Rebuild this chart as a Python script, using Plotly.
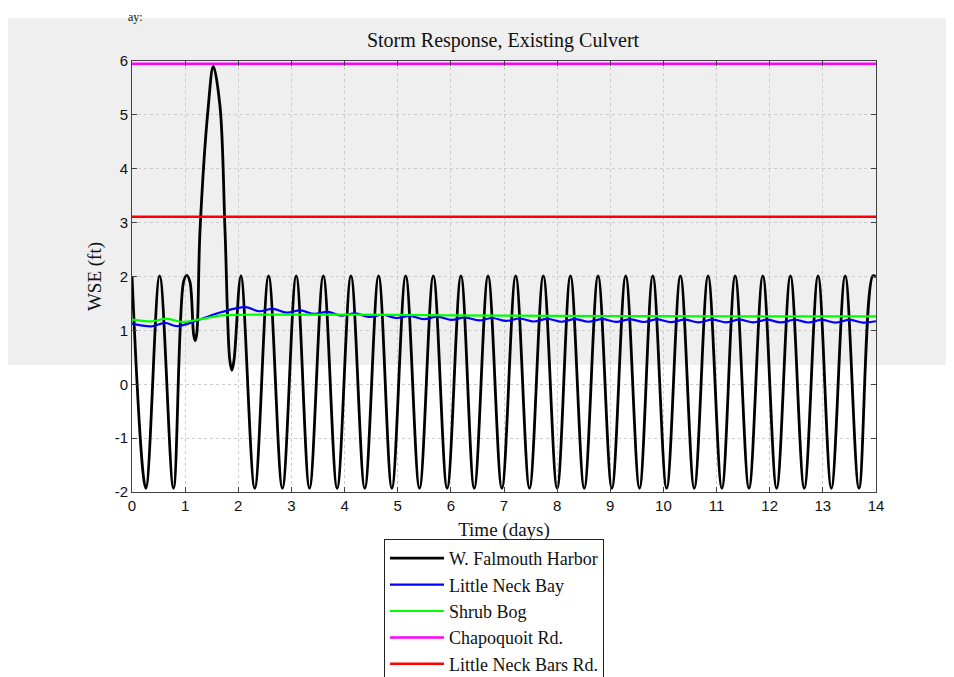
import plotly.graph_objects as go

# ---------------- data ----------------
harbor_t = [0.00, 0.26, 0.52, 0.78, 0.97, 1.03, 1.09, 1.16, 1.19, 1.22, 1.28, 1.436, 1.53,
            1.656, 1.75, 1.84, 1.88, 1.92, 2.05, 2.31, 2.57, 2.83, 3.09, 3.34, 3.60, 3.86,
            4.12, 4.38, 4.64, 4.89, 5.15, 5.41, 5.67, 5.93, 6.19, 6.44, 6.70, 6.96, 7.22,
            7.48, 7.74, 8.00, 8.25, 8.51, 8.77, 9.03, 9.29, 9.55, 9.80, 10.06, 10.32, 10.58,
            10.84, 11.10, 11.35, 11.61, 11.87, 12.13, 12.39, 12.65, 12.91, 13.16, 13.42,
            13.68, 13.94, 14.00]
harbor_wse = [2.01, -1.93, 2.01, -1.93, 1.90, 2.02, 1.90, 0.92, 0.81, 0.95, 2.86, 5.16, 5.90,
              5.16, 2.86, 0.45, 0.26, 0.45, 2.01, -1.93, 2.01, -1.93, 2.01, -1.93, 2.01, -1.93,
              2.01, -1.93, 2.01, -1.93, 2.01, -1.93, 2.01, -1.93, 2.01, -1.93, 2.01, -1.93, 2.01,
              -1.93, 2.01, -1.93, 2.01, -1.93, 2.01, -1.93, 2.01, -1.93, 2.01, -1.93, 2.01, -1.93,
              2.01, -1.93, 2.01, -1.93, 2.01, -1.93, 2.01, -1.93, 2.01, -1.93, 2.01,
              -1.93, 2.01, 1.99]

bay_t = [0.00, 0.37, 0.62, 0.85, 1.24, 1.69, 2.13, 2.39, 2.65, 2.91, 3.17, 3.43, 3.68, 3.94,
         4.20, 4.46, 4.72, 4.98, 5.23, 5.49, 5.75, 6.01, 6.27, 6.53, 6.78, 7.04, 7.30, 7.56,
         7.82, 8.08, 8.33, 8.59, 8.85, 9.11, 9.37, 9.63, 9.88, 10.14, 10.40, 10.66, 10.92,
         11.18, 11.43, 11.69, 11.95, 12.21, 12.47, 12.73, 12.98, 13.24, 13.50, 13.76, 14.00]
bay_wse = [1.125, 1.075, 1.14, 1.08, 1.19, 1.34, 1.43, 1.355, 1.40, 1.33, 1.37, 1.305, 1.345,
           1.275, 1.315, 1.25, 1.29, 1.23, 1.27, 1.21, 1.255, 1.195, 1.24, 1.185, 1.23, 1.175,
           1.22, 1.165, 1.215, 1.16, 1.21, 1.16, 1.21, 1.158, 1.205, 1.155, 1.205, 1.153,
           1.20, 1.15, 1.20, 1.15, 1.20, 1.148, 1.198, 1.147, 1.197, 1.146, 1.196, 1.145,
           1.195, 1.145, 1.17]

bog_t = [0.00, 0.37, 0.65, 0.95, 1.30, 1.69, 2.10, 2.60, 4.00, 6.00, 8.00, 10.00, 12.00, 14.00]
bog_wse = [1.20, 1.168, 1.218, 1.155, 1.21, 1.28, 1.29, 1.293, 1.293, 1.28, 1.27, 1.265, 1.26, 1.26]

road_t = [0.0, 14.0]
chapoquoit_wse = [5.95, 5.95]
bars_wse = [3.11, 3.11]

series_names = ["W. Falmouth Harbor", "Little Neck Bay", "Shrub Bog",
                "Chapoquoit Rd.", "Little Neck Bars Rd."]
x_ticks = list(range(0, 15))
x_labels = [str(v) for v in x_ticks]
y_ticks = list(range(-2, 7))
y_labels = ["-2", "-1", "0", "1", "2", "3", "4", "5", "6"]

# ---------------- figure ----------------
fig = go.Figure()
fig.add_trace(go.Scatter(x=harbor_t, y=harbor_wse, name=series_names[0], mode="lines",
                         line=dict(color="#000000", width=2.8, shape="spline", smoothing=1.0)))
fig.add_trace(go.Scatter(x=bay_t, y=bay_wse, name=series_names[1], mode="lines",
                         line=dict(color="#0000ff", width=2.2, shape="spline", smoothing=1.0)))
fig.add_trace(go.Scatter(x=bog_t, y=bog_wse, name=series_names[2], mode="lines",
                         line=dict(color="#00ff00", width=2.2, shape="spline", smoothing=0.8)))
fig.add_trace(go.Scatter(x=road_t, y=chapoquoit_wse, name=series_names[3], mode="lines",
                         line=dict(color="#ff00ff", width=2.5)))
fig.add_trace(go.Scatter(x=road_t, y=bars_wse, name=series_names[4], mode="lines",
                         line=dict(color="#ff0000", width=2.5)))

# page body has an 8px margin: figure coords = screen coords - 8
OFF = 8
W, H = 946, 669
L, R, T, B = 124, 78, 53, 185
pw, ph = W - L - R, H - T - B

def px(sx):
    return (sx - OFF - L) / pw

def py(sy):
    return (H - B - (sy - OFF)) / ph

# gray scanned background region
fig.add_shape(type="rect", xref="paper", yref="paper", layer="below",
              x0=px(6), x1=px(962), y0=py(365), y1=py(18),
              fillcolor="#efefef", line=dict(width=0))

axis_common = dict(showline=True, linecolor="#404040", linewidth=1, mirror="ticks",
                   ticks="inside", ticklen=5, tickcolor="#404040",
                   showgrid=True, gridcolor="#cccccc", griddash="dot", gridwidth=1,
                   zeroline=False,
                   tickfont=dict(family="Liberation Sans, Arial, sans-serif", size=15, color="#111"))

fig.update_xaxes(range=[0, 14], tickvals=x_ticks, ticktext=x_labels, **axis_common,
                 title=dict(text="Time (days)", standoff=9,
                            font=dict(family="Liberation Serif, Times New Roman, serif", size=19, color="#111")))
fig.update_yaxes(range=[-2, 6], tickvals=y_ticks, ticktext=y_labels, **axis_common,
                 title=dict(text="WSE (ft)", standoff=8,
                            font=dict(family="Liberation Serif, Times New Roman, serif", size=19, color="#111")))

fig.add_annotation(text="ay:", xref="paper", yref="paper", x=px(126), y=py(8),
                   xanchor="left", yanchor="top", showarrow=False,
                   font=dict(family="Liberation Serif, Times New Roman, serif", size=12, color="#111"))

fig.update_layout(
    width=W, height=H,
    margin=dict(l=L, r=R, t=T, b=B, pad=0, autoexpand=False),
    paper_bgcolor="#ffffff", plot_bgcolor="rgba(0,0,0,0)",
    title=dict(text="Storm Response, Existing Culvert", xref="container",
               x=(503 - OFF) / W, xanchor="center",
               y=1 - (40 - OFF) / H, yanchor="middle",
               font=dict(family="Liberation Serif, Times New Roman, serif", size=20, color="#111")),
    showlegend=True,
    legend=dict(x=px(384), y=py(539), xanchor="left", yanchor="top",
                bgcolor="#ffffff", bordercolor="#222", borderwidth=1,
                font=dict(family="Liberation Serif, Times New Roman, serif", size=18, color="#111"),
                itemwidth=54, tracegroupgap=0, entrywidth=172, entrywidthmode="pixels"),
)

fig.write_html("out.html")
